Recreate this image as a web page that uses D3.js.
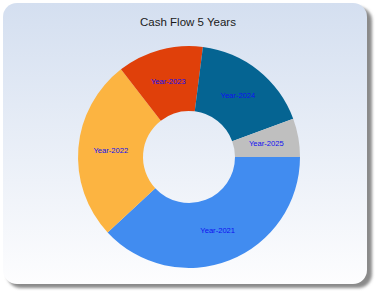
<!DOCTYPE html>
<html>
<head>
<meta charset="utf-8">
<script src="https://cdn.jsdelivr.net/npm/d3@7"></script>
<style>
  body { margin: 0; background: #ffffff; }
  svg { display: block; }
</style>
</head>
<body>
<div id="chart"></div>
<script>
// chart data
var title = "Cash Flow 5 Years";
var years = ["Year-2021", "Year-2022", "Year-2023", "Year-2024", "Year-2025"];
var cashFlow = [38.1, 26.4, 12.5, 17.4, 5.6];
var sliceColors = ["#418CF0", "#FCB441", "#E0400A", "#056492", "#BFBFBF"];

var width = 380;
var height = 296;

var svg = d3.select("#chart").append("svg")
    .attr("width", width)
    .attr("height", height);

var defs = svg.append("defs");

// background gradient
var grad = defs.append("linearGradient")
    .attr("id", "bg")
    .attr("x1", 0).attr("y1", 0)
    .attr("x2", 0).attr("y2", 1);
grad.append("stop").attr("offset", "0%").attr("stop-color", "#d4dff0");
grad.append("stop").attr("offset", "100%").attr("stop-color", "#fdfdfe");

// soft shadow
var blur = defs.append("filter")
    .attr("id", "shadow")
    .attr("x", "-10%").attr("y", "-10%")
    .attr("width", "120%").attr("height", "120%");
blur.append("feGaussianBlur").attr("stdDeviation", 1.6);

// frame with shadow
svg.append("rect")
    .attr("x", 7).attr("y", 7)
    .attr("width", 365).attr("height", 281)
    .attr("rx", 14).attr("ry", 14)
    .attr("fill", "#8a8a8a")
    .attr("filter", "url(#shadow)");

svg.append("rect")
    .attr("x", 3).attr("y", 3)
    .attr("width", 364).attr("height", 281)
    .attr("rx", 14).attr("ry", 14)
    .attr("fill", "url(#bg)");

// title
svg.append("text")
    .attr("x", 188)
    .attr("y", 26)
    .attr("text-anchor", "middle")
    .attr("font-family", "Liberation Sans, Arial, sans-serif")
    .attr("font-size", 11.5)
    .attr("fill", "#1a1a1a")
    .text(title);

// donut
var cx = 189, cy = 157;
var outerR = 111, innerR = 46;

var pie = d3.pie()
    .sort(null)
    .startAngle(Math.PI / 2)
    .endAngle(Math.PI / 2 + 2 * Math.PI);

var arc = d3.arc()
    .innerRadius(innerR)
    .outerRadius(outerR);

var data = years.map(function (d, i) {
    return { year: d, value: cashFlow[i], color: sliceColors[i] };
});

var arcs = pie.value(function (d) { return d.value; })(data);

var g = svg.append("g")
    .attr("transform", "translate(" + cx + "," + cy + ")");

g.selectAll("path")
    .data(arcs)
    .enter().append("path")
    .attr("d", arc)
    .attr("fill", function (d) { return d.data.color; });

g.selectAll("text")
    .data(arcs)
    .enter().append("text")
    .attr("transform", function (d) { return "translate(" + arc.centroid(d) + ")"; })
    .attr("dy", "0.35em")
    .attr("text-anchor", "middle")
    .attr("font-family", "Liberation Sans, Arial, sans-serif")
    .attr("font-size", 7.6)
    .attr("fill", "#1010f0")
    .text(function (d) { return d.data.year; });
</script>
</body>
</html>
